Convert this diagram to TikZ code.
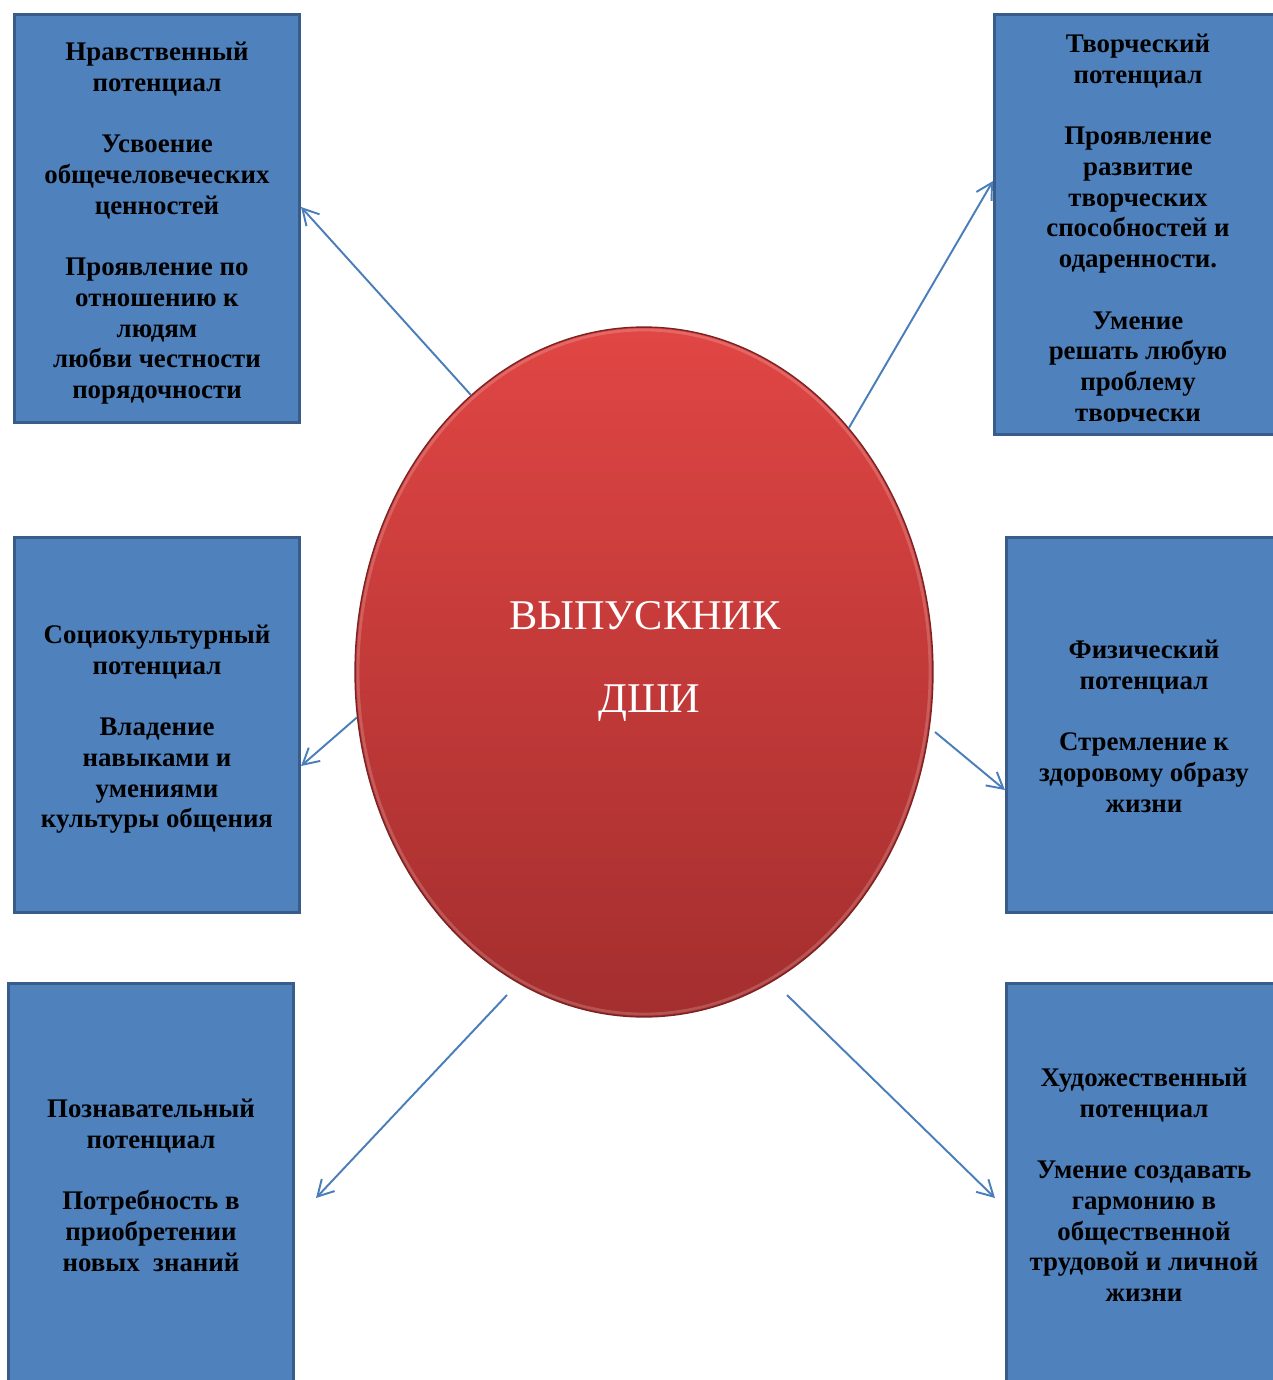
\documentclass[tikz,border=0pt]{standalone}
\usepackage{fontspec}
\setmainfont{Liberation Serif}
\usetikzlibrary{arrows.meta,shapes.geometric}
\definecolor{boxfill}{RGB}{79,129,189}
\definecolor{boxline}{RGB}{56,93,138}
\definecolor{arrowc}{RGB}{74,126,187}
\definecolor{redtop}{RGB}{224,70,68}
\definecolor{redbot}{RGB}{164,46,46}
\begin{document}
\begin{tikzpicture}[x=0.02cm,y=-0.02cm,
  box/.style={rectangle, draw=boxline, fill=boxfill, line width=1.8pt, inner sep=0pt},
  btext/.style={anchor=north, align=center, inner sep=0pt, font=\fontsize{15.3pt}{17.5pt}\selectfont\bfseries},
  arr/.style={draw=arrowc, line width=1.1pt, -{Straight Barb[length=9pt,width=10pt]}},
]
\useasboundingbox (0,0) rectangle (1273,1380);
\clip (0,0) rectangle (1273,1380);
\fill[white] (0,0) rectangle (1273,1380);

% boxes
\node[box, minimum width=5.70cm, minimum height=8.16cm] (tl) at (157,218.5) {};
\node[box, minimum width=5.74cm, minimum height=8.40cm] (tr) at (1138,224.5) {};
\node[box, minimum width=5.70cm, minimum height=7.50cm] (ml) at (157,725) {};
\node[box, minimum width=5.50cm, minimum height=7.50cm] (mr) at (1144,725) {};
\node[box, minimum width=5.70cm, minimum height=8.70cm] (bl) at (151,1201) {};
\node[box, minimum width=5.50cm, minimum height=8.70cm] (br) at (1144,1201) {};

% box texts
\node[btext] (tlt) at (157,38.5) {\strut Нравственный\\потенциал\\[17.5pt]Усвоение\\общечеловеческих\\ценностей\\[17.5pt]Проявление по\\отношению к\\людям\\любви честности\\порядочности};
\begin{scope}
\clip (993,13) rectangle (1283,421);
\node[btext] (trt) at (1138,30.5) {\strut Творческий\\потенциал\\[17.5pt]Проявление\\развитие\\творческих\\способностей и\\одаренности.\\[17.5pt]Умение\\решать любую\\проблему\\творчески};
\end{scope}
\node[btext] (mlt) at (157,621.5) {\strut Социокультурный\\потенциал\\[17.5pt]Владение\\навыками и\\умениями\\культуры общения};
\node[btext] (mrt) at (1144,636.5) {\strut Физический\\потенциал\\[17.5pt]Стремление к\\здоровому образу\\жизни};
\node[btext] (blt) at (151,1095.5) {\strut Познавательный\\потенциал\\[17.5pt]Потребность в\\приобретении\\новых\ \ знаний};
\node[btext] (brt) at (1144,1064.5) {\strut Художественный\\потенциал\\[17.5pt]Умение создавать\\гармонию в\\общественной\\трудовой и личной\\жизни};

% central ellipse
\node[ellipse, minimum width=11.56cm, minimum height=13.8cm, inner sep=0pt,
  top color=redtop, bottom color=redbot, draw=redbot!75!black, line width=0.8pt] (el) at (644,672) {};
\draw[white, opacity=0.18, line width=1.6pt] (el.center) ellipse [x radius=286, y radius=342];
\node[anchor=north, align=center, inner sep=0pt, text=white,
  font=\fontsize{24.1pt}{47pt}\selectfont] (elt) at (645,571.5) {\strut ВЫПУСКНИК\\\hspace*{5pt}ДШИ};

% arrow end points
\coordinate (s4) at (935,732);
\coordinate (s5) at (507,995);
\coordinate (e5) at (316,1198);
\coordinate (s6) at (787,995);
\coordinate (e6) at (995,1198);

% arrows
\draw[arr] (el.122.6) -- (tl.north east |- 0,207);
\draw[arr] (el.50.8) -- (tr.north west |- 0,181);
\draw[arr] (el.189.4) -- (ml.north east |- 0,766);
\draw[arr] (s4) -- (mr.north west |- 0,790);
\draw[arr] (s5) -- (e5);
\draw[arr] (s6) -- (e6);
\end{tikzpicture}
\end{document}
